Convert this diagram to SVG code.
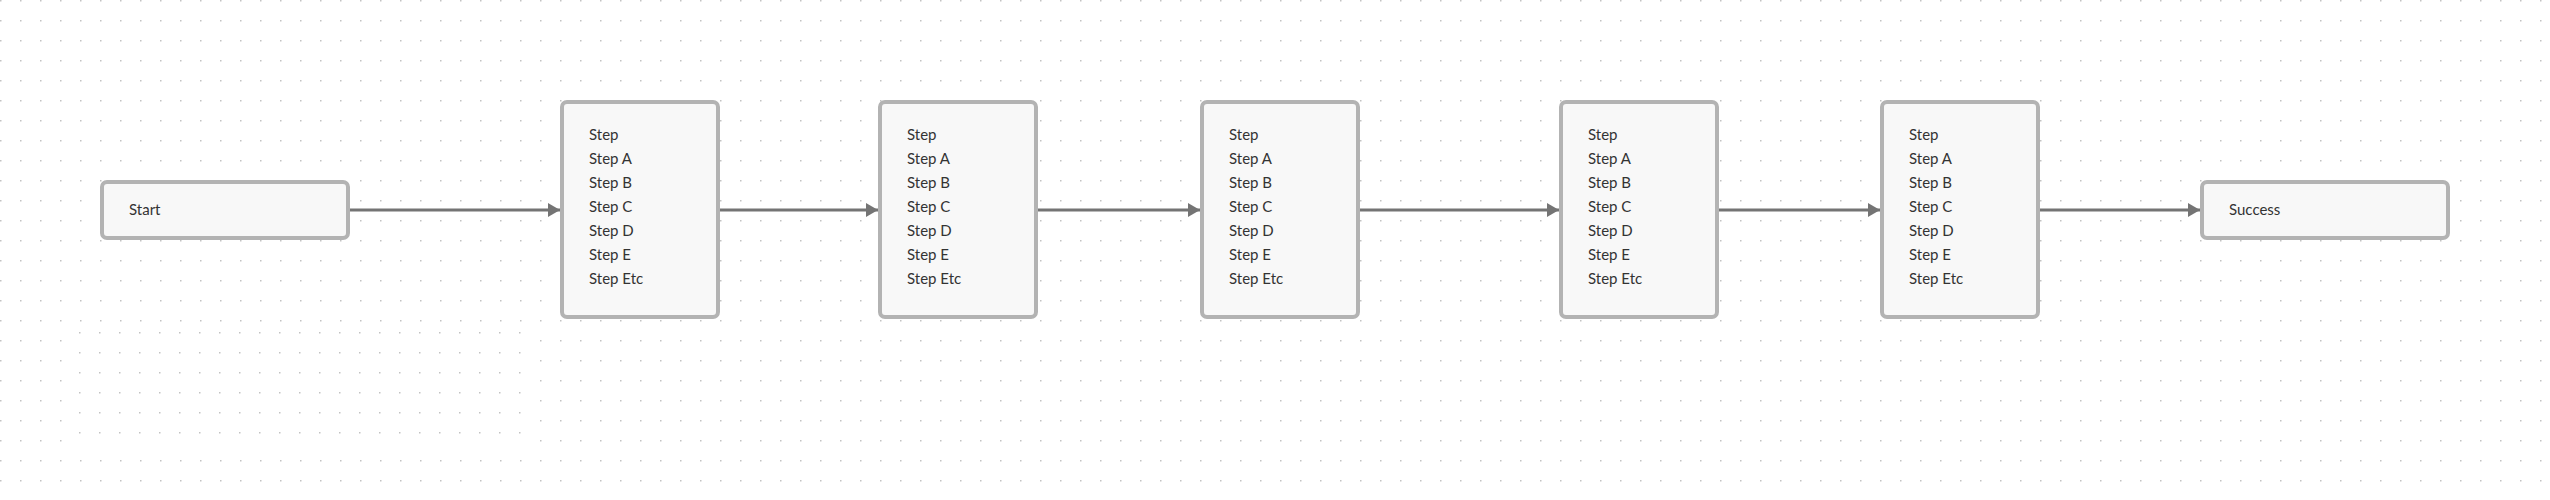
<svg xmlns="http://www.w3.org/2000/svg" width="2550" height="500" viewBox="0 0 2550 500">
<style>
.node rect{fill:#f8f8f8;stroke:#b3b3b3;stroke-width:4}
.node text{font-family:Lato,"Noto Sans","Liberation Sans",sans-serif;font-size:15px;fill:#333}
.edge{stroke:#747474;stroke-width:3;fill:none;marker-end:url(#arrow)}
</style>
<defs>
<pattern id="dots" x="0" y="0" width="20" height="20" patternUnits="userSpaceOnUse">
<rect x="0" y="0" width="1.5" height="1.5" fill="#c2c2c2"/>
</pattern>
<pattern id="dots2" x="79" y="352" width="20" height="20" patternUnits="userSpaceOnUse">
<rect x="0" y="0" width="1.5" height="1.5" fill="#c2c2c2"/>
</pattern>
<marker id="arrow" markerUnits="userSpaceOnUse" markerWidth="12" markerHeight="14" refX="12" refY="7" orient="auto">
<path d="M0,0 L12,7 L0,14 Z" fill="#747474"/>
</marker>
</defs>
<rect x="0" y="0" width="2550" height="500" fill="#ffffff"/>
<rect x="0" y="0" width="2550" height="500" fill="url(#dots)"/>
<rect x="62" y="331" width="476" height="118" fill="#ffffff"/>
<rect x="62" y="331" width="476" height="118" fill="url(#dots2)"/>
<g id="connectors">
<line class="edge" x1="350" y1="210" x2="560" y2="210"/>
<line class="edge" x1="720" y1="210" x2="878" y2="210"/>
<line class="edge" x1="1038" y1="210" x2="1200" y2="210"/>
<line class="edge" x1="1360" y1="210" x2="1559" y2="210"/>
<line class="edge" x1="1719" y1="210" x2="1880" y2="210"/>
<line class="edge" x1="2040" y1="210" x2="2200" y2="210"/>
</g>
<g id="start" class="node">
<rect x="102" y="182" width="246" height="56" rx="5"/>
<text x="129" y="215">Start</text>
</g>
<g id="step1" class="node">
<rect x="562" y="102" width="156" height="215" rx="5"/>
<text x="589" y="140">Step</text><text x="589" y="164">Step A</text><text x="589" y="188">Step B</text><text x="589" y="212">Step C</text><text x="589" y="236">Step D</text><text x="589" y="260">Step E</text><text x="589" y="284">Step Etc</text>
</g>
<g id="step2" class="node">
<rect x="880" y="102" width="156" height="215" rx="5"/>
<text x="907" y="140">Step</text><text x="907" y="164">Step A</text><text x="907" y="188">Step B</text><text x="907" y="212">Step C</text><text x="907" y="236">Step D</text><text x="907" y="260">Step E</text><text x="907" y="284">Step Etc</text>
</g>
<g id="step3" class="node">
<rect x="1202" y="102" width="156" height="215" rx="5"/>
<text x="1229" y="140">Step</text><text x="1229" y="164">Step A</text><text x="1229" y="188">Step B</text><text x="1229" y="212">Step C</text><text x="1229" y="236">Step D</text><text x="1229" y="260">Step E</text><text x="1229" y="284">Step Etc</text>
</g>
<g id="step4" class="node">
<rect x="1561" y="102" width="156" height="215" rx="5"/>
<text x="1588" y="140">Step</text><text x="1588" y="164">Step A</text><text x="1588" y="188">Step B</text><text x="1588" y="212">Step C</text><text x="1588" y="236">Step D</text><text x="1588" y="260">Step E</text><text x="1588" y="284">Step Etc</text>
</g>
<g id="step5" class="node">
<rect x="1882" y="102" width="156" height="215" rx="5"/>
<text x="1909" y="140">Step</text><text x="1909" y="164">Step A</text><text x="1909" y="188">Step B</text><text x="1909" y="212">Step C</text><text x="1909" y="236">Step D</text><text x="1909" y="260">Step E</text><text x="1909" y="284">Step Etc</text>
</g>
<g id="success" class="node">
<rect x="2202" y="182" width="246" height="56" rx="5"/>
<text x="2229" y="215">Success</text>
</g>
</svg>
